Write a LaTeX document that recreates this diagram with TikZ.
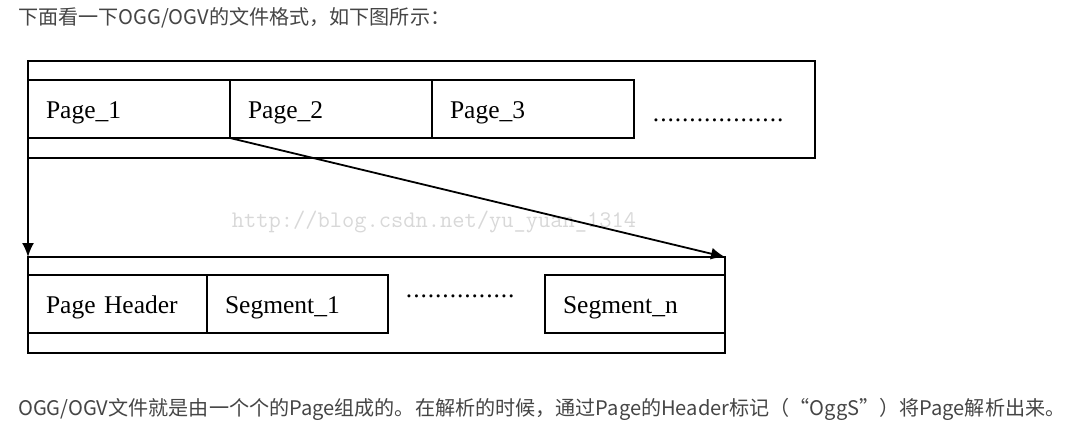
\documentclass[tikz,border=0pt]{standalone}
\usepackage{fontspec}
\setmainfont{Liberation Serif}
\newfontfamily\cjkfont{Noto Sans CJK SC}
\usetikzlibrary{arrows.meta}

\definecolor{txtgray}{HTML}{454545}
\definecolor{markgray}{HTML}{D8D8D8}
\newcommand\dotrow[2]{\hbox to #1{\leaders\hbox to #2{\hss.\hss}\hfill}}

\begin{document}
\begin{tikzpicture}[x=1pt,y=-1pt,
  framebox/.style={draw, line width=1.5pt, inner sep=0pt, outer sep=0pt, anchor=north west},
  cellbox/.style={draw, line width=1.5pt, inner ysep=0pt, inner xsep=18pt, outer sep=0pt,
    minimum height=58pt, text height=20pt, text depth=2pt, anchor=north west, align=left,
    font=\fontsize{25.5}{30}\selectfont},
  conn/.style={line width=1.8pt, -{Latex[length=14pt,width=12pt]}},
  cjktext/.style={anchor=west, inner sep=0pt, text=txtgray, font=\cjkfont\fontsize{20.1}{24}\selectfont}]

\useasboundingbox (0,0) rectangle (1083,424);

% Text above and below
\node[cjktext] (intro) at (18,18) {下面看一下OGG/OGV的文件格式，如下图所示：};
\node[cjktext] (outro) at (18,409) {OGG/OGV文件就是由一个个的Page组成的。在解析的时候，通过Page的Header标记（“OggS”）将Page解析出来。};

% Watermark
\node[text=markgray, font=\ttfamily\fontsize{23.8}{26}\selectfont] (mark) at (434,222) {http://blog.csdn.net/yu\_yuan\_1314};

% File: pages
\node[framebox, minimum width=787pt, minimum height=97pt] (fileframe) at (28,61) {};
\node[cellbox, text width=166pt] (page1) at (28,80) {Page\_1};
\node[cellbox, text width=166pt] (page2) at (230,80) {Page\_2};
\node[cellbox, text width=166pt] (page3) at (432,80) {Page\_3};
\node[anchor=base, inner sep=0pt, font=\fontsize{25.5}{30}\selectfont] (pagedots) at (721,121) {\dotrow{137pt}{7.3pt}};

% Page: header and segments
\node[framebox, minimum width=697pt, minimum height=96pt] (pageframe) at (28,257) {};
\node[cellbox, text width=143pt] (header) at (28,275) {Page Header};
\node[cellbox, text width=145pt] (seg1) at (207,275) {Segment\_1};
\node[cellbox, text width=144pt] (segn) at (545,275) {Segment\_n};
\node[anchor=base, inner sep=0pt, font=\fontsize{25.5}{30}\selectfont] (segdots) at (462,297) {\dotrow{113pt}{7.3pt}};

% Arrows
\draw[conn] (page1.south west) -- (pageframe.north west);
\draw[conn] (page1.south east) -- (pageframe.north east);

\end{tikzpicture}
\end{document}
